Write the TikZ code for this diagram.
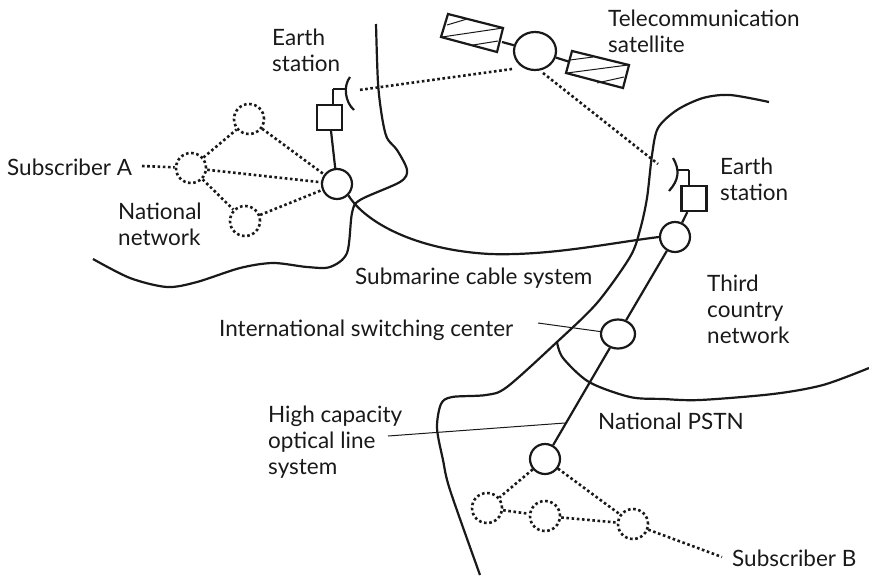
\documentclass[tikz,border=0pt]{standalone}
\usepackage{fontspec}
\usetikzlibrary{shapes.geometric}
\setmainfont{Lato}
\tikzset{
	netline/.style={line width=2.2pt, draw=black!90},
	dotline/.style={line width=2.6pt, draw=black!90, dash pattern=on 2.6pt off 2.6pt},
	leader/.style={line width=1pt, draw=black!90},
	switchnode/.style={circle, netline, inner sep=0pt, minimum size=30pt},
	localnode/.style={circle, dotline, inner sep=0pt, minimum size=30pt},
	stationbox/.style={rectangle, netline, inner sep=0pt, minimum size=25pt},
	labeltext/.style={anchor=base west, inner sep=0pt, text=black!90, font=\fontsize{22.5}{26}\selectfont},
}
\begin{document}
\begin{tikzpicture}[x=1pt,y=-1pt]
	\useasboundingbox (0,0) rectangle (869,576);

	% coast lines
	\draw[netline] plot[smooth,tension=0.5] coordinates {(376,24) (378,83) (382,117) (387,138) (397,150) (407,170) (400,182) (360,200) (352,213) (347,253) (330,267) (307,267) (273,263) (240,268) (197,282) (167,287) (130,278) (93,259)};
	\draw[netline] plot[smooth,tension=0.5] coordinates {(769,102) (730,95) (703,98) (677,110) (658,128) (652,155) (647,198) (640,230) (630,257) (597,303) (557,342) (507,387) (486,395) (452,397) (441,404) (437,428) (443,460) (450,490) (480,575)};
	\draw[netline] plot[smooth,tension=0.5] coordinates {(557,342) (563,358) (589,382) (630,397) (663,399) (700,400) (773,394) (823,385) (869,368)};

	% satellite
	\node[ellipse, netline, inner sep=0pt, minimum width=42pt, minimum height=38pt] (sat) at (535,51) {};
	\draw[netline, line join=miter] (448,14) -- (503,28) -- (497,52) -- (441,37) -- cycle;
	\draw[netline, line join=miter] (572,51) -- (629,65) -- (623,88) -- (566,73) -- cycle;
	\draw[leader] (447,25) -- (467,19) (442,37) -- (503,28) (473,45) -- (498,41);
	\draw[leader] (570,60) -- (593,57) (567,73) -- (628,65) (597,83) -- (624,77);
	\coordinate (armA) at (502,42);
	\coordinate (armB) at (570,62);
	\draw[netline] (armA) -- (sat);
	\draw[netline] (sat) -- (armB);

	% stations
	\node[stationbox] (boxA) at (329.5,117.5) {};
	\node[stationbox] (boxB) at (694,198.5) {};
	\coordinate (feedA) at (333,89);
	\coordinate (feedB) at (689,170);
	\coordinate (dishA) at (346,89);
	\coordinate (dishB) at (677,170);
	\draw[netline] (feedA) -- (feedA |- boxA.north);
	\draw[netline] (feedA) -- (dishA);
	\draw[netline] (feedB) -- (feedB |- boxB.north);
	\draw[netline] (feedB) -- (dishB);
	\draw[netline] (354,110) .. controls (345,102) and (343,86) .. (350,77);
	\draw[netline] (673,158) .. controls (680,170) and (679,180) .. (669,191);

	% switching centers
	\node[switchnode] (swA) at (337,184) {};
	\node[switchnode] (swB) at (675,237) {};
	\node[switchnode, ellipse, minimum width=34pt, minimum height=29pt] (swC) at (618,334) {};
	\node[switchnode] (swD) at (545,459) {};
	\draw[netline] (boxA) -- (swA);
	\draw[netline] (boxB) -- (swB);
	\draw[netline] (swB) -- (swC);
	\draw[netline] (swC) -- (swD);
	\draw[netline] (swA.-45) .. controls (365,222) and (415,250) .. (490,254) .. controls (550,256) and (610,243) .. (swB.west);

	% local nodes
	\node[localnode] (nodeTop) at (249,119) {};
	\node[localnode] (nodeMid) at (191,168) {};
	\node[localnode] (nodeBot) at (245,221) {};
	\node[localnode] (nodeE) at (487,508) {};
	\node[localnode] (nodeF) at (545,516) {};
	\node[localnode] (nodeG) at (633,524) {};
	\draw[dotline] (nodeMid) -- (nodeTop);
	\draw[dotline] (nodeMid) -- (nodeBot);
	\draw[dotline] (nodeMid) -- (swA);
	\draw[dotline] (nodeTop) -- (swA);
	\draw[dotline] (nodeBot) -- (swA);
	\draw[dotline] (swD) -- (nodeE);
	\draw[dotline] (swD) -- (nodeG);
	\draw[dotline] (nodeE) -- (nodeF);
	\draw[dotline] (nodeF) -- (nodeG);
	\coordinate (startA) at (512,69);
	\coordinate (startB) at (543,73);
	\coordinate (endA) at (359,90);
	\coordinate (endB) at (658,164);
	\draw[dotline] (startA) -- (endA);
	\draw[dotline] (startB) -- (endB);

	% labels
	\node[labeltext] (earthA) at (272,45) {Earth};
	\node[labeltext] (earthAb) at (272,71) {station};
	\node[labeltext] (telesat) at (608,26) {Telecommunication};
	\node[labeltext] (telesatb) at (608,52) {satellite};
	\node[labeltext] (earthB) at (720,174) {Earth};
	\node[labeltext] (earthBb) at (720,200) {station};
	\node[labeltext] (subA) at (7,175) {Subscriber A};
	\node[labeltext] (natnet) at (118,219) {National};
	\node[labeltext] (natnetb) at (118,245) {network};
	\node[labeltext] (subcable) at (355,284) {Submarine cable system};
	\node[labeltext] (third) at (707,291) {Third};
	\node[labeltext] (thirdb) at (707,317) {country};
	\node[labeltext] (thirdc) at (707,343) {network};
	\node[labeltext] (intsw) at (219,336) {International switching center};
	\node[labeltext] (highcap) at (268,422) {High capacity};
	\node[labeltext] (highcapb) at (268,448) {optical line};
	\node[labeltext] (highcapc) at (268,474) {system};
	\node[labeltext] (natpstn) at (598,429) {National PSTN};
	\node[labeltext] (subB) at (732,566) {Subscriber B};
	\coordinate (subAend) at (142,166);
	\coordinate (subBend) at (722,557);
	\coordinate (lineC) at (538,323);
	\coordinate (lineD) at (388,436);
	\coordinate (lineE) at (565,423);
	\draw[dotline] (subAend) -- (nodeMid);
	\draw[dotline] (nodeG) -- (subBend);
	\draw[leader] (lineC) -- (swC);
	\draw[leader] (lineD) -- (lineE);
\end{tikzpicture}
\end{document}
